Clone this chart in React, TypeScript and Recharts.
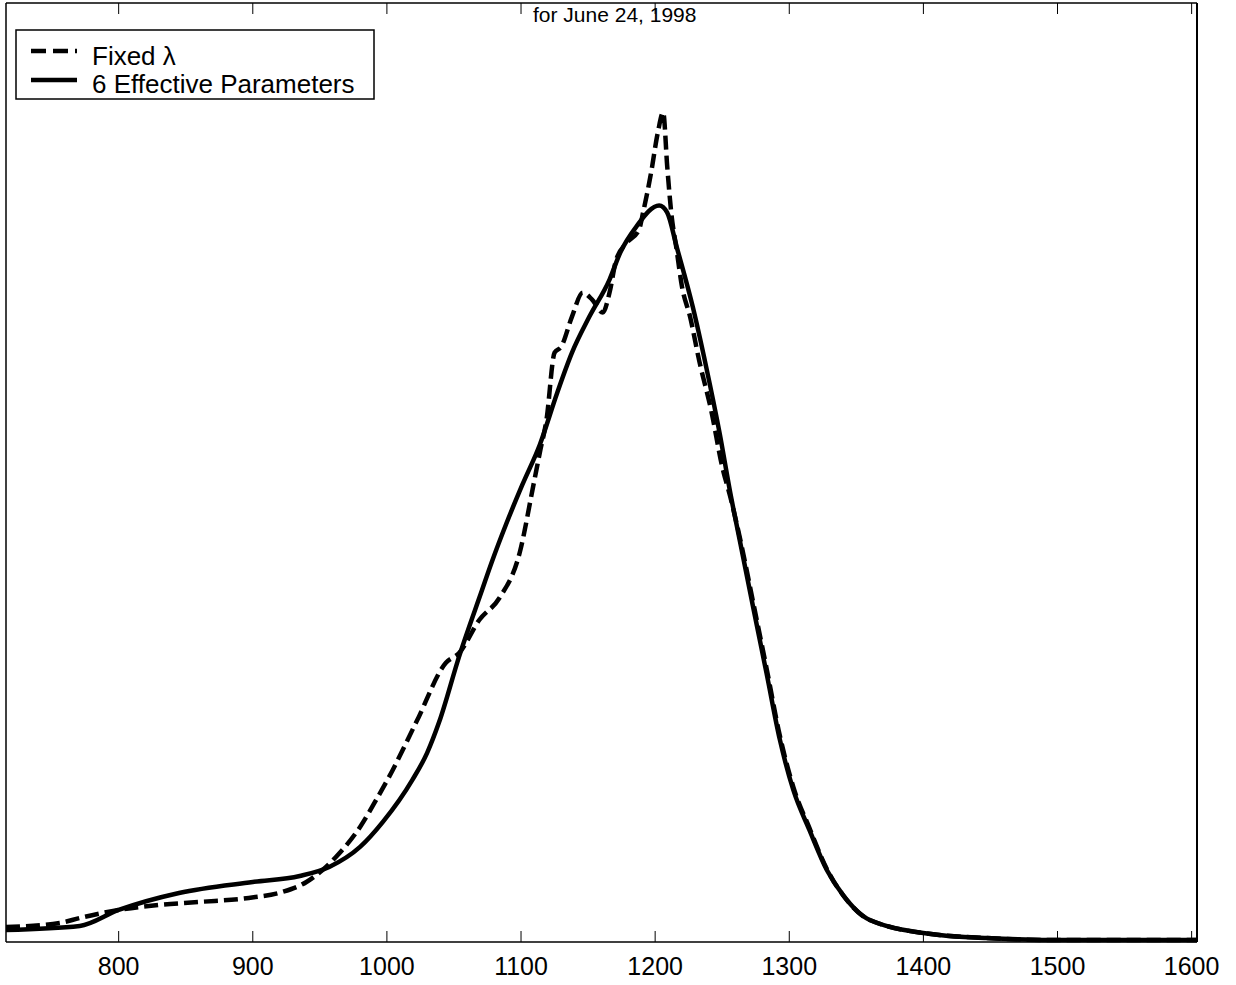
import { Line, LineChart, XAxis, YAxis } from 'recharts';

const xTicks = [800, 900, 1000, 1100, 1200, 1300, 1400, 1500, 1600];

// Fixed lambda (dashed)
const fixedX = [
    716, 756, 771, 800, 830, 860, 897, 922, 940, 952, 962, 980, 992, 1002, 1022, 1044, 1054, 1069,
    1084, 1099, 1109, 1114, 1119, 1125, 1130, 1138, 1146, 1153, 1161, 1166, 1171, 1179, 1188, 1191,
    1197, 1202, 1206, 1209, 1212, 1216, 1220, 1226, 1233, 1242, 1250, 1256, 1263, 1273, 1283, 1293,
    1303, 1315, 1328, 1340, 1360, 1412, 1447, 1494, 1604
];
const fixedY = [
    0.15, 0.19, 0.24, 0.32, 0.37, 0.4, 0.44, 0.5, 0.6, 0.72, 0.85, 1.15, 1.42, 1.66, 2.2, 2.79, 2.89,
    3.22, 3.44, 3.89, 4.55, 4.89, 5.22, 5.89, 5.95, 6.25, 6.49, 6.42, 6.29, 6.49, 6.82, 6.99, 7.12,
    7.29, 7.69, 8.09, 8.29, 7.75, 7.29, 6.92, 6.55, 6.25, 5.8, 5.3, 4.75, 4.45, 4.05, 3.4, 2.74, 2.06,
    1.55, 1.14, 0.73, 0.47, 0.22, 0.07, 0.04, 0.02, 0.02
];

// 6 effective parameters (solid)
const effX = [
    716, 771, 800, 845, 900, 935, 957, 980, 997, 1019, 1030, 1039, 1054, 1071, 1078, 1089, 1101, 1114,
    1127, 1138, 1151, 1166, 1174, 1186, 1203, 1209, 1216, 1228, 1238, 1248, 1256, 1263, 1273, 1283,
    1293, 1303, 1315, 1328, 1340, 1360, 1412, 1447, 1494, 1604
];
const effY = [
    0.12, 0.16, 0.32, 0.49, 0.6, 0.66, 0.75, 0.95, 1.2, 1.62, 1.89, 2.2, 2.86, 3.52, 3.79, 4.18, 4.57,
    4.97, 5.49, 5.89, 6.25, 6.62, 6.89, 7.15, 7.36, 7.29, 6.95, 6.35, 5.75, 5.09, 4.49, 4.02, 3.35, 2.69,
    2.02, 1.52, 1.12, 0.72, 0.47, 0.22, 0.07, 0.04, 0.02, 0.02
];

const fixedData = fixedX.map((x, i) => ({ x, y: fixedY[i] }));
const effData = effX.map((x, i) => ({ x, y: effY[i] }));

const font = '"Liberation Sans", Arial, Helvetica, sans-serif';

const BottomTick = ({ x, y, payload }: any) => (
    <g>
        <line x1={x} x2={x} y1={y} y2={y - 11} stroke='#000' strokeWidth={1} />
        <text x={x} y={y + 33} textAnchor='middle' fontSize={25} fontFamily={font} fill='#000'>
            {payload.value}
        </text>
    </g>
);

const TopTick = ({ x, y }: any) => (
    <line x1={x} x2={x} y1={y} y2={y + 11} stroke='#000' strokeWidth={1} />
);

export default function App() {
    return (
        <div
            style={{
                position: 'absolute',
                left: 0,
                top: 0,
                width: 1236,
                height: 985,
                background: '#fff',
                fontFamily: font
            }}
        >
            <LineChart
                width={1236}
                height={985}
                margin={{ top: 0, right: 0, bottom: 0, left: 0 }}
            >
                <XAxis
                    xAxisId='bottom'
                    type='number'
                    dataKey='x'
                    domain={[716, 1604]}
                    ticks={xTicks}
                    allowDataOverflow
                    height={43}
                    tickSize={0}
                    tickMargin={0}
                    tickLine={false}
                    tick={<BottomTick />}
                    axisLine={{ stroke: '#000', strokeWidth: 1.5 }}
                    interval={0}
                />
                <XAxis
                    xAxisId='top'
                    orientation='top'
                    type='number'
                    dataKey='x'
                    domain={[716, 1604]}
                    ticks={xTicks}
                    allowDataOverflow
                    height={3}
                    tickSize={0}
                    tickMargin={0}
                    tickLine={false}
                    tick={<TopTick />}
                    axisLine={{ stroke: '#000', strokeWidth: 1.5 }}
                    interval={0}
                />
                <YAxis
                    yAxisId='left'
                    type='number'
                    domain={[0, 9.384]}
                    width={6}
                    tick={false}
                    tickLine={false}
                    axisLine={{ stroke: '#000', strokeWidth: 1.5 }}
                />
                <YAxis
                    yAxisId='right'
                    orientation='right'
                    type='number'
                    domain={[0, 9.384]}
                    width={39}
                    tick={false}
                    tickLine={false}
                    axisLine={{ stroke: '#000', strokeWidth: 2 }}
                />
                <Line
                    xAxisId='bottom'
                    yAxisId='left'
                    data={fixedData}
                    dataKey='y'
                    type='monotone'
                    stroke='#000'
                    strokeWidth={4.5}
                    strokeDasharray='14 6'
                    dot={false}
                    activeDot={false}
                    isAnimationActive={false}
                />
                <Line
                    xAxisId='bottom'
                    yAxisId='left'
                    data={effData}
                    dataKey='y'
                    type='monotone'
                    stroke='#000'
                    strokeWidth={4.5}
                    dot={false}
                    activeDot={false}
                    isAnimationActive={false}
                />
            </LineChart>

            <div
                style={{
                    position: 'absolute',
                    left: 533,
                    top: 3,
                    fontSize: 21,
                    color: '#000',
                    whiteSpace: 'nowrap'
                }}
            >
                for June 24, 1998
            </div>

            <svg
                width={360}
                height={72}
                style={{ position: 'absolute', left: 15, top: 29 }}
            >
                <rect x={1} y={1} width={358} height={69} fill='#fff' stroke='#000' strokeWidth={1.5} />
                <line x1={16} x2={62} y1={22} y2={22} stroke='#000' strokeWidth={4.5} strokeDasharray='15 7' />
                <text x={77} y={36} fontSize={26} fontFamily={font} fill='#000'>
                    Fixed λ
                </text>
                <line x1={16} x2={62} y1={51} y2={51} stroke='#000' strokeWidth={4.5} />
                <text x={77} y={64} fontSize={26} fontFamily={font} fill='#000'>
                    6 Effective Parameters
                </text>
            </svg>
        </div>
    );
}
